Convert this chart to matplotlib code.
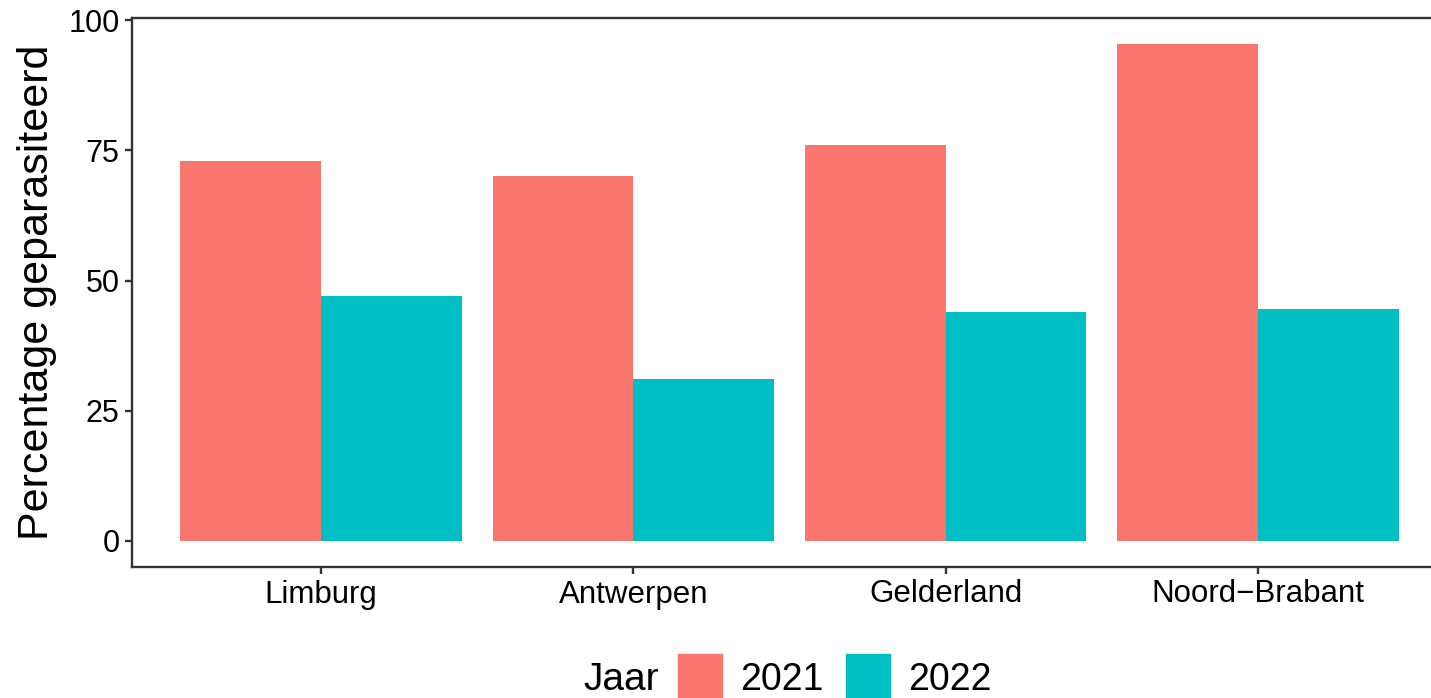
import numpy as np
import matplotlib
matplotlib.use("Agg")
import matplotlib.pyplot as plt
from matplotlib.patches import Rectangle

plt.rcParams['font.family'] = ['Liberation Sans', 'DejaVu Sans']

# data
provincies = ["Limburg", "Antwerpen", "Gelderland", "Noord\u2212Brabant"]
jaren = ["2021", "2022"]
pct_2021 = [73, 70, 76, 95.5]
pct_2022 = [47, 31, 44, 44.5]
kleuren = ["#F8766D", "#00BFC4"]
yticks = [0, 25, 50, 75, 100]

W, H = 1431, 698
fig = plt.figure(figsize=(W / 100, H / 100), dpi=100)
ax = fig.add_axes([132 / W, (H - 567) / H, (W - 132) / W, (567 - 18) / H])

x = np.arange(len(provincies))
bw = 0.45
for i, (vals, kleur) in enumerate(zip([pct_2021, pct_2022], kleuren)):
    ax.bar(x + (i - 0.5) * bw, vals, width=bw, color=kleur, align='center')

ax.set_xlim(-0.605, 3.554)
ax.set_ylim(-5, 100.4)
ax.set_xticks(x)
ax.set_xticklabels(provincies, fontsize=22.5)
ax.set_yticks(yticks)
ax.set_yticklabels([str(v) for v in yticks], fontsize=22)
ax.set_ylabel("Percentage geparasiteerd", fontsize=31, labelpad=8)

for s in ['left', 'bottom', 'top']:
    ax.spines[s].set_color('#333333')
    ax.spines[s].set_linewidth(1.7)
ax.spines['right'].set_visible(False)
ax.tick_params(length=5, width=1.7, color='#333333', labelcolor='black', pad=4)

# legend below the plot: "Jaar" then the keys
fig.text(583 / W, 1 - 680 / H, "Jaar", fontsize=28, ha='left', va='center')
key_x = [678, 846]
for kx, kleur, jaar in zip(key_x, kleuren, jaren):
    fig.patches.append(Rectangle((kx / W, 1 - 698 / H), 44 / W, 44 / H,
                                 transform=fig.transFigure, color=kleur))
    fig.text((kx + 62) / W, 1 - 680 / H, jaar, fontsize=27, ha='left', va='center')

fig.savefig("out.png", dpi=100)
